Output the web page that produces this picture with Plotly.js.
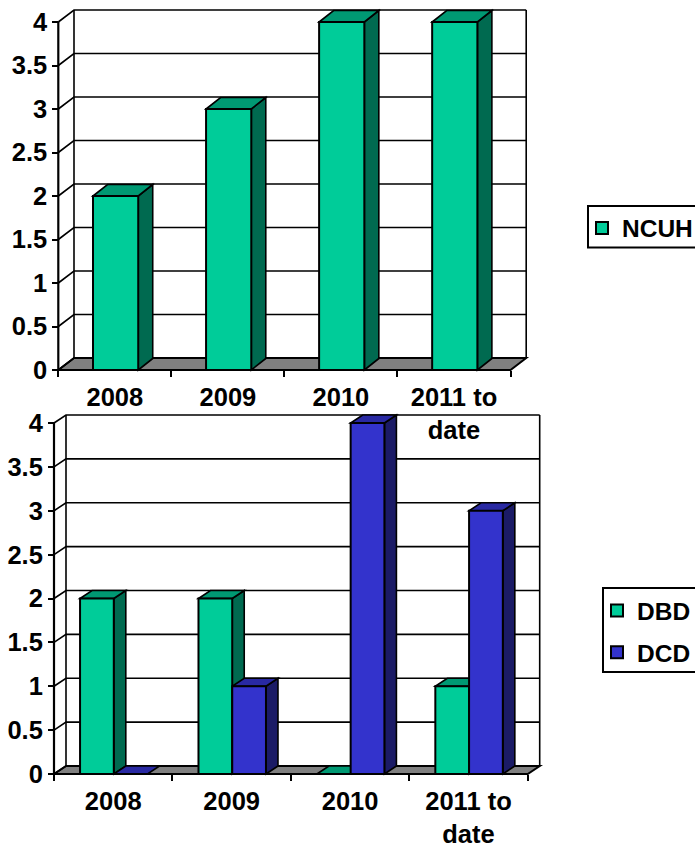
<!DOCTYPE html>
<html>
<head>
<meta charset="utf-8">
<script src="https://cdn.plot.ly/plotly-3.0.1.min.js"></script>
<style>html,body{margin:0;padding:0;background:#fff}#chart{width:695px;height:848px}</style>
</head>
<body>
<div id="chart"></div>
<script>
// Chart data
const categories = ['2008', '2009', '2010', '2011 to<br>date'];
const ncuhValues = [2, 3, 4, 4];
const dbdValues = [2, 2, 0, 1];
const dcdValues = [0, 1, 4, 3];
const yTickValues = [0, 0.5, 1, 1.5, 2, 2.5, 3, 3.5, 4];
const yTickLabels = ['0', '0.5', '1', '1.5', '2', '2.5', '3', '3.5', '4'];

// Colours: front, top and side faces of each series
const GREEN = {front: '#00CC99', top: '#009973', side: '#006A50'};
const BLUE = {front: '#3333CC', top: '#2929A3', side: '#1B1B66'};
const INK = '#000';
const W = 695, H = 848, PAD = 4;
const FONT = {family: '"Liberation Sans", Arial, sans-serif', size: 25.5, color: '#000', weight: 'bold'};
const LEGEND_FONT = Object.assign({}, FONT, {size: 24.5});

// Pixel frame of each panel; the oblique depth is expressed in pixels too
const upper = {suffix: '', legend: 'legend', left: 58.3, right: 510.5, base: 370, top: 22, dx: 15.7, dy: 12, barDx: 14.5, barDy: 11.5};
const lower = {suffix: '2', legend: 'legend2', left: 54, right: 527.7, base: 774, top: 423, dx: 12, dy: 8, barDx: 12, barDy: 8};

const shapes = [];
const axes = {};

const poly = pts => 'M' + pts.map(p => p[0] + ',' + p[1]).join('L') + 'Z';

function addShape(p, path, fill, width, layer) {
  shapes.push({type: 'path', xref: 'x' + p.suffix, yref: 'y' + p.suffix, path, layer: layer || 'below',
    fillcolor: fill || 'rgba(0,0,0,0)', line: {color: INK, width: width}});
}

// Axes, back wall, side wall and floor of a panel
function buildFrame(p) {
  const perCat = (p.right - p.left) / categories.length;
  const perUnit = (p.base - p.top) / 4;
  const ddx = p.dx / perCat, ddy = p.dy / perUnit;
  p.bdx = p.barDx / perCat; p.bdy = p.barDy / perUnit;
  p.perCat = perCat;
  const pl = p.left - PAD, pr = p.right + p.dx + PAD, pt = p.top - p.dy - PAD, pb = p.base + PAD;
  const x0 = -0.5, x1 = categories.length - 0.5;

  axes['xaxis' + p.suffix] = {
    domain: [pl / W, pr / W],
    range: [x0 - PAD / perCat, x1 + ddx + PAD / perCat],
    anchor: 'free', position: 1 - p.base / H,
    tickmode: 'array', tickvals: categories.map((c, i) => i), ticktext: categories,
    ticks: '', showgrid: false, zeroline: false, showline: false, tickfont: FONT, fixedrange: true,
    tickangle: 0,
    minor: {tickmode: 'array', tickvals: [0, 1, 2, 3, 4].map(k => k - 0.5), ticks: 'outside', ticklen: 6, tickwidth: 2, tickcolor: INK, showgrid: false},
    ticklabelstandoff: 9
  };
  axes['yaxis' + p.suffix] = {
    domain: [1 - pb / H, 1 - pt / H],
    range: [-PAD / perUnit, 4 + ddy + PAD / perUnit],
    anchor: 'free', position: p.left / W,
    tickmode: 'array', tickvals: yTickValues, ticktext: yTickLabels,
    ticks: 'outside', ticklen: 6, tickwidth: 2, tickcolor: INK,
    showgrid: false, zeroline: false, showline: false, tickfont: FONT, fixedrange: true
  };

  addShape(p, poly([[x0, 0], [x0 + ddx, ddy], [x1 + ddx, ddy], [x1, 0]]), '#808080', 2);
  yTickValues.forEach(v => {
    addShape(p, `M${x0},${v}L${x0 + ddx},${v + ddy}L${x1 + ddx},${v + ddy}`, null, 1.6);
  });
  addShape(p, `M${x0 + ddx},${ddy}L${x0 + ddx},${4 + ddy}`, null, 1.6);
  addShape(p, `M${x1 + ddx},${ddy}L${x1 + ddx},${4 + ddy}`, null, 1.6);
  return p;
}

// Top and side faces of a bar series, in data coordinates
function addFaces(p, values, offset, width, colors) {
  values.forEach((v, i) => {
    const a = i + offset, b = a + width;
    if (v > 0) addShape(p, poly([[b, 0], [b + p.bdx, p.bdy], [b + p.bdx, v + p.bdy], [b, v]]), colors.side, 1.6);
    addShape(p, poly([[a, v], [a + p.bdx, v + p.bdy], [b + p.bdx, v + p.bdy], [b, v]]), colors.top, 1.6);
  });
}

function barTrace(p, name, values, offset, width, colors) {
  return {
    type: 'bar', name, x: values.map((v, i) => i), y: values, offset, width,
    marker: {color: colors.front, line: {color: INK, width: 2}},
    xaxis: 'x' + p.suffix, yaxis: 'y' + p.suffix, legend: p.legend, legendgroup: name,
    customdata: categories, hovertemplate: '%{customdata}: %{y}<extra>' + name + '</extra>'
  };
}

// Front axis lines sit on top of the bars
function addFrontAxes(p) {
  const x1 = categories.length - 0.5;
  addShape(p, `M-0.5,4L-0.5,0L${x1},0`, null, 2.2, 'above');
}

function legendBox(x0, y0, x1, y1) {
  shapes.push({type: 'rect', xref: 'paper', yref: 'paper', x0: x0 / W, x1: x1 / W, y0: 1 - y0 / H, y1: 1 - y1 / H,
    line: {color: INK, width: 2}, layer: 'above'});
}

buildFrame(upper);
buildFrame(lower);

const upperWidth = 0.4, upperOffset = -0.193;
const lowerWidth = 0.285, dbdOffset = -0.28, dcdOffset = 0.005;

addFaces(upper, ncuhValues, upperOffset, upperWidth, GREEN);
addFaces(lower, dbdValues, dbdOffset, lowerWidth, GREEN);
addFaces(lower, dcdValues, dcdOffset, lowerWidth, BLUE);
addFrontAxes(upper);
addFrontAxes(lower);

legendBox(588, 206, 700, 247.5);
legendBox(603, 588, 700, 672);

const traces = [
  barTrace(upper, 'NCUH', ncuhValues, upperOffset, upperWidth, GREEN),
  barTrace(lower, 'DBD', dbdValues, dbdOffset, lowerWidth, GREEN),
  barTrace(lower, 'DCD', dcdValues, dcdOffset, lowerWidth, BLUE)
];

const legendBase = {xanchor: 'left', yanchor: 'top', bgcolor: 'rgba(0,0,0,0)', borderwidth: 0, font: LEGEND_FONT, indentation: -3, tracegroupgap: 7};

const layout = Object.assign({
  width: W, height: H,
  margin: {l: 0, r: 0, t: 0, b: 0, pad: 0, autoexpand: false},
  paper_bgcolor: '#fff', plot_bgcolor: 'rgba(0,0,0,0)',
  barmode: 'overlay', showlegend: true, shapes,
  font: FONT,
  legend: Object.assign({x: 585 / W, y: 1 - 205.5 / H}, legendBase),
  legend2: Object.assign({x: 600 / W, y: 1 - 588 / H}, legendBase)
}, axes);

Plotly.newPlot('chart', traces, layout, {displayModeBar: false, responsive: false});
</script>
</body>
</html>
